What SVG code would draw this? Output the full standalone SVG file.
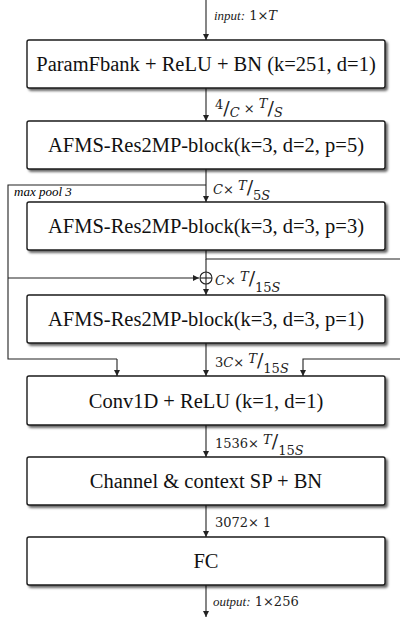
<svg xmlns="http://www.w3.org/2000/svg" width="400" height="617" viewBox="0 0 400 617">
  <style>
    .box { fill: #ffffff; stroke: #1a1a1a; stroke-width: 1.4; filter: url(#shadow); }
    .lbl { font-family: 'Liberation Serif', 'DejaVu Serif', serif; font-size: 20.5px; fill: #111; text-anchor: middle; }
    .dim { font-family: 'DejaVu Serif', 'Liberation Serif', serif; font-size: 13px; fill: #222; }
    .tag { font-family: 'Liberation Serif', 'DejaVu Serif', serif; font-style: italic; font-size: 13px; }
    .it { font-style: italic; }
    .sl { font-size: 19px; }
    .wire { fill: none; stroke: #222; stroke-width: 1.1; }
    .arr { marker-end: url(#head); }
  </style>
  <defs>
    <filter id="shadow" x="-5%" y="-10%" width="115%" height="130%">
      <feDropShadow dx="2.2" dy="2.2" stdDeviation="0.9" flood-color="#000" flood-opacity="0.6"/>
    </filter>
    <marker id="head" viewBox="0 0 10 10" refX="10" refY="5" markerWidth="6" markerHeight="6" markerUnits="userSpaceOnUse" orient="auto">
      <path d="M0,0 L10,5 L0,10 z" fill="#222"/>
    </marker>
  </defs>

  <!-- connectors -->
  <g id="connectors">
    <line class="wire arr" x1="206" y1="0" x2="206" y2="40"/>
    <line class="wire arr" x1="206" y1="88" x2="206" y2="121"/>
    <line class="wire arr" x1="206" y1="169" x2="206" y2="202"/>
    <!-- max-pool skip branch on the left -->
    <polyline class="wire" points="206,185 8,185 8,359 117,359"/>
    <line class="wire arr" x1="8" y1="278" x2="199" y2="278"/>
    <line class="wire arr" x1="117" y1="359" x2="117" y2="376"/>
    <!-- residual branch on the right -->
    <polyline class="wire" points="206,250 206,259 400,259"/>
    <line class="wire" x1="206" y1="259" x2="206" y2="272"/>
    <circle class="wire" cx="206" cy="278" r="6"/>
    <line class="wire" x1="200" y1="278" x2="212" y2="278"/>
    <line class="wire" x1="206" y1="272" x2="206" y2="284"/>
    <line class="wire arr" x1="206" y1="284" x2="206" y2="295"/>
    <line class="wire arr" x1="206" y1="343" x2="206" y2="376"/>
    <polyline class="wire arr" points="400,359 303,359 303,376"/>
    <line class="wire arr" x1="206" y1="425" x2="206" y2="457"/>
    <line class="wire arr" x1="206" y1="505" x2="206" y2="537"/>
    <line class="wire arr" x1="206" y1="585" x2="206" y2="617"/>
  </g>

  <!-- dimension labels -->
  <text class="dim" x="214" y="20"><tspan class="tag">input:</tspan> 1×<tspan class="it">T</tspan></text>
  <text class="dim" x="215" y="109">4<tspan class="sl" dy="6">/</tspan><tspan class="it" dy="2">C</tspan><tspan dy="-4"> × </tspan><tspan class="it" dy="-5">T</tspan><tspan class="sl" dy="7">/</tspan><tspan class="it" dy="2">S</tspan></text>
  <text class="tag" x="14" y="196" font-size="12">max pool 3</text>
  <text class="dim" x="213" y="194"><tspan class="it">C</tspan>× <tspan class="it" dy="-4">T</tspan><tspan class="sl" dy="4">/</tspan><tspan dy="6">5</tspan><tspan class="it">S</tspan></text>
  <text class="dim" x="215" y="285"><tspan class="it">C</tspan>× <tspan class="it" dy="-4">T</tspan><tspan class="sl" dy="4">/</tspan><tspan dy="7">15</tspan><tspan class="it">S</tspan></text>
  <text class="dim" x="215" y="367">3<tspan class="it">C</tspan>× <tspan class="it" dy="-4">T</tspan><tspan class="sl" dy="4">/</tspan><tspan dy="6">15</tspan><tspan class="it">S</tspan></text>
  <text class="dim" x="215" y="448">1536× <tspan class="it" dy="-4">T</tspan><tspan class="sl" dy="4">/</tspan><tspan dy="7">15</tspan><tspan class="it">S</tspan></text>
  <text class="dim" x="215" y="527">3072× 1</text>
  <text class="dim" x="213" y="606"><tspan class="tag">output:</tspan> 1×256</text>

  <!-- nodes -->
  <g id="param-fbank">
    <rect class="box" x="27" y="40" width="358" height="48" rx="2"/>
    <text class="lbl" x="206" y="71">ParamFbank + ReLU + BN (k=251, d=1)</text>
  </g>
  <g id="block-1">
    <rect class="box" x="27" y="121" width="358" height="48" rx="2"/>
    <text class="lbl" x="206" y="152">AFMS-Res2MP-block(k=3, d=2, p=5)</text>
  </g>
  <g id="block-2">
    <rect class="box" x="27" y="202" width="358" height="48" rx="2"/>
    <text class="lbl" x="206" y="233">AFMS-Res2MP-block(k=3, d=3, p=3)</text>
  </g>
  <g id="block-3">
    <rect class="box" x="27" y="295" width="358" height="48" rx="2"/>
    <text class="lbl" x="206" y="326">AFMS-Res2MP-block(k=3, d=3, p=1)</text>
  </g>
  <g id="conv1d">
    <rect class="box" x="27" y="376" width="358" height="49" rx="2"/>
    <text class="lbl" x="206" y="408">Conv1D + ReLU (k=1, d=1)</text>
  </g>
  <g id="pooling">
    <rect class="box" x="27" y="457" width="358" height="48" rx="2"/>
    <text class="lbl" x="206" y="488">Channel &amp; context SP + BN</text>
  </g>
  <g id="fc">
    <rect class="box" x="27" y="537" width="358" height="48" rx="2"/>
    <text class="lbl" x="206" y="568">FC</text>
  </g>
</svg>
